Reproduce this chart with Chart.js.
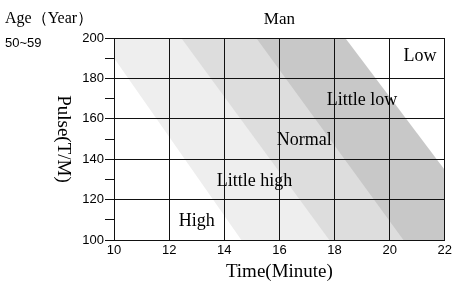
<!DOCTYPE html>
<html lang="en">
<head>
  <meta charset="UTF-8">
  <title>Man 50~59 Pulse</title>
  <script src="https://cdn.jsdelivr.net/npm/chart.js"></script>
  <style>
    body { margin: 0; background: #fff; }
    #wrap { width: 455px; height: 289px; }
  </style>
</head>
<body>
  <div id="wrap"><canvas id="pulseChart" width="455" height="289"></canvas></div>
  <script>
    // band edges: where each boundary crosses pulse 200 and pulse 100 (minutes)
    const edgeNames = ['Low', 'Little low', 'Normal', 'Little high'];
    const edgeTopX = [18.39, 15.16, 12.44, 9.49];
    const edgeBottomX = [23.92, 20.5, 17.81, 14.62];
    const bandColors = ['#ffffff', '#c8c8c8', '#dddddd', '#eeeeee'];

    // zone labels and where they sit (minute, pulse)
    const zoneLabels = ['Low', 'Little low', 'Normal', 'Little high', 'High'];
    const zoneX = [21.1, 19.0, 16.9, 15.1, 13.0];
    const zoneY = [191, 169, 149.5, 129, 109.5];

    const xMin = 10, xMax = 22, xStep = 2;
    const yMin = 100, yMax = 200, yStep = 10;

    const datasets = edgeNames.map((name, i) => ({
      label: name,
      data: [
        { x: edgeTopX[i], y: yMax },
        { x: edgeBottomX[i], y: yMin },
        { x: 24, y: yMin }
      ],
      borderWidth: 0,
      borderColor: 'rgba(0,0,0,0)',
      backgroundColor: bandColors[i],
      pointRadius: 0,
      fill: 'end',
      tension: 0
    }));

    const textPlugin = {
      id: 'texts',
      afterDraw(chart) {
        const ctx = chart.ctx;
        const a = chart.chartArea;
        const xs = chart.scales.x, ys = chart.scales.y;
        ctx.save();
        ctx.fillStyle = '#000';

        ctx.font = '16px "Liberation Serif"';
        ctx.textAlign = 'left';
        ctx.textBaseline = 'alphabetic';
        ctx.fillText('Age（Year）', 5, 23);
        ctx.font = '13px "Liberation Sans"';
        ctx.fillText('50~59', 5, 47);

        ctx.font = '17px "Liberation Serif"';
        ctx.textAlign = 'center';
        ctx.fillText('Man', (a.left + a.right) / 2, 24);

        ctx.font = '19px "Liberation Serif"';
        ctx.textBaseline = 'middle';
        ctx.fillText('Time(Minute)', (a.left + a.right) / 2, 272);

        ctx.save();
        ctx.translate(63, (a.top + a.bottom) / 2);
        ctx.rotate(Math.PI / 2);
        ctx.fillText('Pulse(T/M)', 0, 0);
        ctx.restore();

        ctx.font = '18px "Liberation Serif"';
        zoneLabels.forEach((t, i) => {
          ctx.fillText(t, xs.getPixelForValue(zoneX[i]), ys.getPixelForValue(zoneY[i]));
        });
        ctx.restore();
      }
    };

    new Chart(document.getElementById('pulseChart'), {
      type: 'line',
      data: { datasets },
      options: {
        responsive: false,
        animation: false,
        layout: { autoPadding: false, padding: { top: 38, right: 6, left: 0, bottom: 0 } },
        plugins: { legend: { display: false }, tooltip: { enabled: false }, title: { display: false } },
        scales: {
          x: {
            type: 'linear',
            min: xMin, max: xMax,
            afterFit(scale) { scale.height = 49; },
            ticks: { stepSize: xStep, color: '#000', padding: 3, maxRotation: 0,
                     font: { family: 'Liberation Sans', size: 13 } },
            grid: { color: '#111', lineWidth: 1, drawTicks: false, z: 1 },
            border: { color: '#111', width: 1, z: 1 }
          },
          y: {
            min: yMin, max: yMax,
            afterFit(scale) { scale.width = 114; },
            ticks: { stepSize: yStep, color: '#000', padding: 1,
                     font: { family: 'Liberation Sans', size: 13 },
                     callback: v => (v % 20 === 0 ? v : '') },
            grid: {
              color: c => (c.tick && c.tick.value % 20 === 0 ? '#111' : 'rgba(0,0,0,0)'),
              tickColor: '#111', tickLength: 9, lineWidth: 1, z: 1
            },
            border: { color: '#111', width: 1, z: 1 }
          }
        }
      },
      plugins: [textPlugin]
    });
  </script>
</body>
</html>
